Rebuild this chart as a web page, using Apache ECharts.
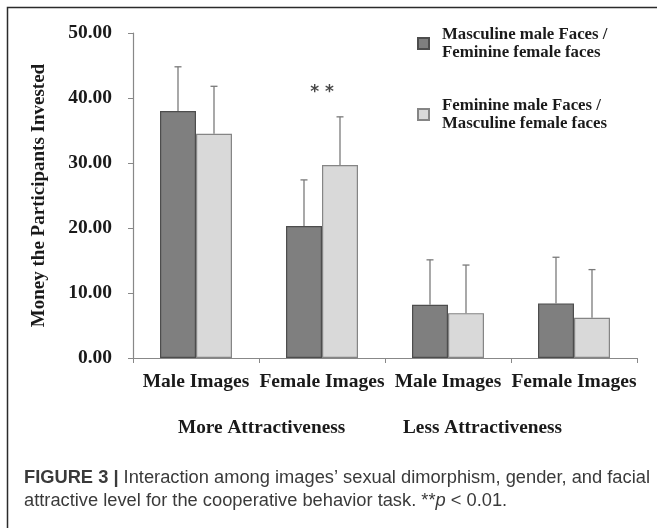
<!DOCTYPE html>
<html>
<head>
<meta charset="utf-8">
<script src="https://cdn.jsdelivr.net/npm/echarts@6/dist/echarts.min.js"></script>
<style>
  html, body { margin: 0; padding: 0; background: #fff; }
  #chart { width: 657px; height: 528px; }
</style>
</head>
<body>
<div id="chart"></div>
<script>
const categories = ['Male Images', 'Female Images', 'Male Images', 'Female Images'];
const groupLabels = ['More Attractiveness', 'Less Attractiveness'];
const seriesNames = ['Masculine male Faces /\nFeminine female faces', 'Feminine male Faces /\nMasculine female faces'];
const masculineMeans = [38.0, 20.3, 8.2, 8.4];
const masculineErrors = [6.8, 7.1, 6.9, 7.1];
const feminineMeans = [34.5, 29.7, 6.9, 6.2];
const feminineErrors = [7.3, 7.4, 7.4, 7.4];
const significance = [[1, 40.8, '* *']];
const yTicks = { min: 0, max: 50, interval: 10 };

const serif = 'Liberation Serif';
const chart = echarts.init(document.getElementById('chart'));

// upper error bars only, drawn at the bar centres
function errorSeries(means, errors, offset) {
  return {
    type: 'custom',
    z: 5,
    silent: true,
    data: means.map((m, i) => [i, m, m + errors[i]]),
    renderItem: (params, api) => {
      const low = api.coord([api.value(0), api.value(1)]);
      const high = api.coord([api.value(0), api.value(2)]);
      const x = low[0] + offset;
      const style = { stroke: '#7a7a7a', lineWidth: 1.3 };
      return {
        type: 'group',
        children: [
          { type: 'line', shape: { x1: x, y1: low[1], x2: x, y2: high[1] }, style },
          { type: 'line', shape: { x1: x - 3.5, y1: high[1], x2: x + 3.5, y2: high[1] }, style }
        ]
      };
    }
  };
}

const option = {
  animation: false,
  grid: { left: 133, right: 20, top: 33, bottom: 170 },
  legend: {
    orient: 'vertical',
    left: 417,
    top: 26,
    padding: 0,
    itemWidth: 11,
    itemHeight: 11,
    itemGap: 36,
    selectedMode: false,
    data: [
      { name: seriesNames[0], icon: 'rect' },
      { name: seriesNames[1], icon: 'rect' }
    ],
    textStyle: {
      fontFamily: serif,
      fontWeight: 'bold',
      fontSize: 16.8,
      lineHeight: 17.5,
      color: '#1a1a1a',
      padding: [0, 0, 0, 8]
    }
  },
  xAxis: {
    type: 'category',
    data: categories,
    axisLine: { lineStyle: { color: '#888', width: 1.2 } },
    axisTick: { show: true, length: 5, lineStyle: { color: '#888' } },
    axisLabel: {
      interval: 0,
      margin: 14,
      fontFamily: serif,
      fontWeight: 'bold',
      fontSize: 19.5,
      color: '#1a1a1a'
    }
  },
  yAxis: {
    type: 'value',
    min: yTicks.min,
    max: yTicks.max,
    interval: yTicks.interval,
    name: 'Money the Participants Invested',
    nameLocation: 'middle',
    nameGap: 84,
    nameTextStyle: { fontFamily: serif, fontWeight: 'bold', fontSize: 19, color: '#1a1a1a' },
    axisLine: { show: true, lineStyle: { color: '#888', width: 1.2 } },
    axisTick: { show: true, length: 5, lineStyle: { color: '#888' } },
    splitLine: { show: false },
    axisLabel: {
      margin: 21,
      formatter: v => v.toFixed(2),
      fontFamily: serif,
      fontWeight: 'bold',
      fontSize: 19.5,
      color: '#1a1a1a'
    }
  },
  series: [
    {
      name: seriesNames[0],
      type: 'bar',
      barWidth: 36,
      barGap: '0%',
      data: masculineMeans,
      itemStyle: { color: '#7f7f7f', borderColor: '#4d4d4d', borderWidth: 1.2 }
    },
    {
      name: seriesNames[1],
      type: 'bar',
      barWidth: 36,
      data: feminineMeans,
      itemStyle: { color: '#d9d9d9', borderColor: '#858585', borderWidth: 1.2 }
    },
    errorSeries(masculineMeans, masculineErrors, -18),
    errorSeries(feminineMeans, feminineErrors, 18),
    {
      type: 'scatter',
      silent: true,
      symbolSize: 1,
      itemStyle: { color: 'rgba(0,0,0,0)' },
      data: significance,
      label: {
        show: true,
        position: 'inside',
        formatter: p => p.value[2],
        fontFamily: 'DejaVu Sans',
        fontWeight: 'bold',
        fontSize: 17,
        color: '#1a1a1a'
      }
    }
  ],
  graphic: [
    // figure frame (clipped at right and bottom)
    {
      type: 'polyline',
      shape: { points: [[7.5, 528], [7.5, 7.5], [657, 7.5]] },
      style: { stroke: '#2b2b2b', lineWidth: 1.5, fill: null }
    },
    {
      type: 'text',
      left: 178,
      top: 419,
      style: { text: groupLabels[0], fontFamily: serif, fontWeight: 'bold', fontSize: 19.3, fill: '#1a1a1a' }
    },
    {
      type: 'text',
      left: 403,
      top: 419,
      style: { text: groupLabels[1], fontFamily: serif, fontWeight: 'bold', fontSize: 19.3, fill: '#1a1a1a' }
    },
    {
      type: 'text',
      left: 24,
      top: 469,
      style: {
        text: '{b|FIGURE 3 |} Interaction among images\u2019 sexual dimorphism, gender, and facial',
        fontFamily: 'Liberation Sans',
        fontSize: 18.3,
        fill: '#3a3a3a',
        rich: {
          b: { fontFamily: 'Liberation Sans', fontWeight: 'bold', fontSize: 18.3, fill: '#3a3a3a' }
        }
      }
    },
    {
      type: 'text',
      left: 24,
      top: 492,
      style: {
        text: 'attractive level for the cooperative behavior task. **{i|p} < 0.01.',
        fontFamily: 'Liberation Sans',
        fontSize: 18.3,
        fill: '#3a3a3a',
        rich: {
          i: { fontFamily: 'Liberation Sans', fontStyle: 'italic', fontSize: 18.3, fill: '#3a3a3a' }
        }
      }
    }
  ]
};

chart.setOption(option);
</script>
</body>
</html>
